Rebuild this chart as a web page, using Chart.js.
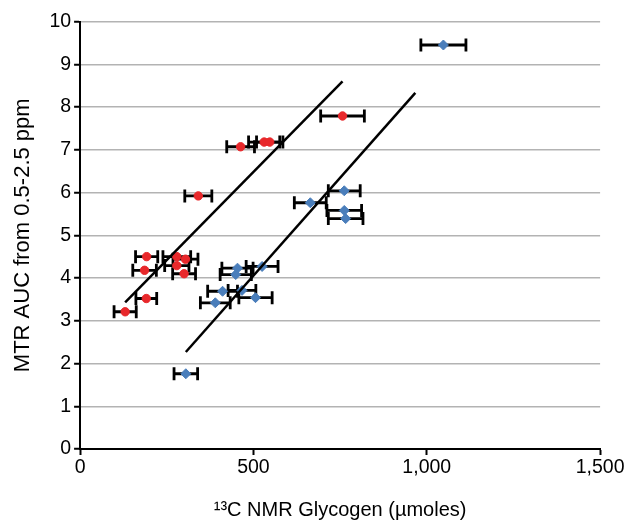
<!DOCTYPE html>
<html>
<head>
<meta charset="utf-8">
<script src="https://cdn.jsdelivr.net/npm/chart.js@4.4.1/dist/chart.umd.min.js"></script>
<style>
  html, body { margin: 0; padding: 0; background: #fff; }
  #wrap { width: 625px; height: 525px; }
</style>
</head>
<body>
<div id="wrap"><canvas id="glyChart" width="625" height="525"></canvas></div>
<script>
// red group
var redX = [130, 191, 186, 192, 279, 304, 279, 300, 341, 463, 531, 547, 757];
var redY = [3.21, 3.52, 4.18, 4.50, 4.50, 4.44, 4.29, 4.10, 5.92, 7.07, 7.18, 7.18, 7.79];
var redErr = [32, 30, 34, 32, 40, 36, 35, 33, 39, 40, 45, 38, 63];

// blue group
var blueX = [305, 390, 411, 467, 506, 449, 454, 525, 664, 762, 762, 766, 1048];
var blueY = [1.76, 3.42, 3.69, 3.71, 3.54, 4.08, 4.23, 4.27, 5.76, 6.04, 5.58, 5.39, 9.45];
var blueErr = [34, 43, 43, 40, 48, 45, 45, 46, 46, 46, 50, 50, 65];

// fitted lines (end points)
var redLineX = [130, 757];
var redLineY = [3.43, 8.6];
var blueLineX = [305, 967];
var blueLineY = [2.27, 8.33];

var xTicks = [0, 500, 1000, 1500];

function toPoints(xs, ys) {
	return xs.map(function(v, i) { return { x: v, y: ys[i] }; });
}

// horizontal error bars with end caps
var errorBars = {
	id: 'errorBars',
	beforeDatasetsDraw: function(chart) {
		var ctx = chart.ctx;
		var sx = chart.scales.x, sy = chart.scales.y;
		ctx.save();
		ctx.strokeStyle = '#000';
		ctx.lineWidth = 2.8;
		chart.data.datasets.forEach(function(ds) {
			if (!ds.xErr) return;
			ds.data.forEach(function(p, i) {
				var py = sy.getPixelForValue(p.y);
				var x1 = sx.getPixelForValue(p.x - ds.xErr[i]);
				var x2 = sx.getPixelForValue(p.x + ds.xErr[i]);
				ctx.beginPath();
				ctx.moveTo(x1, py); ctx.lineTo(x2, py);
				ctx.moveTo(x1, py - 6.5); ctx.lineTo(x1, py + 6.5);
				ctx.moveTo(x2, py - 6.5); ctx.lineTo(x2, py + 6.5);
				ctx.stroke();
			});
		});
		ctx.restore();
	}
};

Chart.defaults.font.family = '"Liberation Sans", Arial, sans-serif';
Chart.defaults.color = '#000';

var chartArea = document.getElementById('glyChart').getContext('2d');
var myChart = new Chart(chartArea, {
	type: 'scatter',
	data: {
		datasets: [{
			label: 'red',
			data: toPoints(redX, redY),
			xErr: redErr,
			backgroundColor: '#e8282b',
			borderColor: '#e8282b',
			pointStyle: 'circle',
			pointRadius: 4.2,
			order: 2
		}, {
			label: 'blue',
			data: toPoints(blueX, blueY),
			xErr: blueErr,
			backgroundColor: '#4a7ebb',
			borderColor: '#4a7ebb',
			pointStyle: 'rectRot',
			pointRadius: 5,
			order: 2
		}, {
			label: 'fit red',
			data: toPoints(redLineX, redLineY),
			showLine: true,
			borderColor: '#000',
			borderWidth: 2.5,
			pointRadius: 0,
			order: 1
		}, {
			label: 'fit blue',
			data: toPoints(blueLineX, blueLineY),
			showLine: true,
			borderColor: '#000',
			borderWidth: 2.5,
			pointRadius: 0,
			order: 1
		}]
	},
	options: {
		responsive: false,
		animation: false,
		devicePixelRatio: 1,
		layout: { padding: { top: 21.5, right: 24, bottom: 3, left: 6 } },
		plugins: {
			legend: { display: false },
			tooltip: { enabled: false }
		},
		scales: {
			x: {
				type: 'linear',
				min: 0,
				max: 1500,
				afterBuildTicks: function(axis) {
					axis.ticks = xTicks.map(function(v) { return { value: v }; });
				},
				ticks: {
					font: { size: 19.5 },
					padding: 0.5,
					maxRotation: 0,
					callback: function(v) { return v.toLocaleString('en-US'); }
				},
				grid: { drawOnChartArea: false, tickLength: 6, tickColor: '#000', tickWidth: 2 },
				border: { color: '#000', width: 2 },
				title: {
					display: true,
					text: '¹³C NMR Glycogen (µmoles)',
					font: { size: 20 },
					padding: { top: 18.6, bottom: 0 }
				}
			},
			y: {
				min: 0,
				max: 10,
				ticks: { stepSize: 1, font: { size: 19.5 }, padding: 3 },
				grid: { color: '#b3b3b3', lineWidth: 1.5, tickLength: 6, tickColor: '#000', tickWidth: 2 },
				border: { color: '#000', width: 2 },
				title: {
					display: true,
					text: 'MTR AUC from 0.5-2.5 ppm',
					font: { size: 22 },
					padding: { top: 4, bottom: 10 }
				}
			}
		}
	},
	plugins: [errorBars]
});
</script>
</body>
</html>
